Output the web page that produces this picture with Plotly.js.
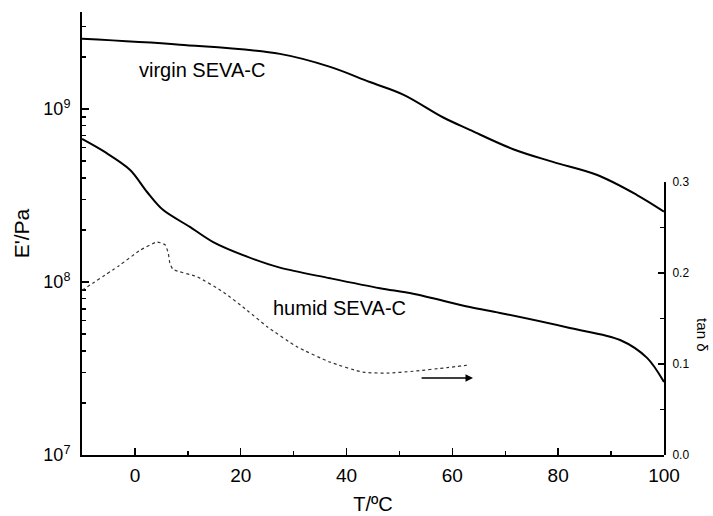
<!DOCTYPE html>
<html>
<head>
<meta charset="utf-8">
<script src="https://cdn.plot.ly/plotly-3.0.1.min.js"></script>
<style>html,body{margin:0;padding:0;background:#fff;}#chart{width:713px;height:516px;}</style>
</head>
<body>
<div id="chart"></div>
<script>
// Temperature (°C) and storage modulus E' (Pa)
const virginT = [-10, 8.5, 27.4, 36.9, 44.4, 50.7, 58.2, 63.3, 71.5, 79, 87.4, 94.9, 100];
const virginE = [2.54e9, 2.35e9, 2.08e9, 1.75e9, 1.43e9, 1.21e9, 8.95e8, 7.57e8, 5.85e8, 4.94e8, 4.15e8, 3.18e8, 2.55e8];

const humidT = [-10, -5.7, -0.9, 2.3, 5.3, 10.4, 14.8, 21.2, 27.4, 36.9, 46.3, 52.6, 63.3, 69, 82.2, 91.7, 96.8, 100];
const humidE = [6.71e8, 5.64e8, 4.44e8, 3.31e8, 2.61e8, 2.08e8, 1.70e8, 1.40e8, 1.21e8, 1.05e8, 9.2e7, 8.55e7, 7.16e7, 6.62e7, 5.42e7, 4.62e7, 3.64e7, 2.64e7];

// tan delta of humid sample
const tanT = [-10, -3, 1, 4.2, 5.7, 6.3, 6.6, 7.2, 11.7, 16.7, 21.2, 25, 30.6, 36.9, 43.1, 47.7, 52.6, 59, 63.3];
const tanD = [0.181, 0.208, 0.225, 0.234, 0.231, 0.222, 0.211, 0.204, 0.196, 0.179, 0.159, 0.141, 0.119, 0.102, 0.091, 0.090, 0.092, 0.096, 0.099];

const xTicks = [0, 20, 40, 60, 80, 100];
const yTicks = [1e7, 1e8, 1e9];
const yTickText = ['10<sup>7</sup>', '10<sup>8</sup>', '10<sup>9</sup>'];
const y2Ticks = [0, 0.1, 0.2, 0.3];
const y2TickText = ['0.0', '0.1', '0.2', '0.3'];

const yMinor = [];
[1e7, 1e8, 1e9].forEach(d => { for (let k = 2; k <= 9; k++) yMinor.push(k * d); });

const FONT = 'Liberation Sans, Arial, sans-serif';

const traces = [
  {x: virginT, y: virginE, type: 'scatter', mode: 'lines', line: {color: '#000', width: 2, shape: 'spline', smoothing: 1}, xaxis: 'x', yaxis: 'y', hoverinfo: 'skip'},
  {x: humidT, y: humidE, type: 'scatter', mode: 'lines', line: {color: '#000', width: 2, shape: 'spline', smoothing: 0.9}, xaxis: 'x', yaxis: 'y', hoverinfo: 'skip'},
  {x: tanT, y: tanD, type: 'scatter', mode: 'lines', line: {color: '#333', width: 1.2, dash: 'dot', shape: 'spline', smoothing: 0.5}, xaxis: 'x', yaxis: 'y2', hoverinfo: 'skip'}
];

const layout = {
  width: 713, height: 516,
  margin: {l: 82, r: 49, t: 12, b: 61},
  paper_bgcolor: '#fff', plot_bgcolor: 'rgba(0,0,0,0)',
  showlegend: false,
  font: {family: FONT, color: '#000'},
  xaxis: {
    range: [-10, 100], showgrid: false, zeroline: false,
    showline: true, linecolor: '#000', linewidth: 2,
    tickmode: 'array', tickvals: xTicks, ticktext: xTicks.map(String),
    ticks: 'inside', ticklen: 7, tickwidth: 1.5, tickcolor: '#000',
    minor: {tickmode: 'linear', tick0: 10, dtick: 20, ticks: 'inside', ticklen: 4, tickwidth: 1.5, tickcolor: '#000'},
    tickfont: {size: 19, family: FONT},
    ticklabelstandoff: 2,
    title: {text: 'T/ºC', font: {size: 20, family: FONT}, standoff: 12},
    anchor: 'y'
  },
  yaxis: {
    type: 'log', range: [7, 9.56], showgrid: false, zeroline: false,
    showline: true, linecolor: '#000', linewidth: 2,
    tickmode: 'array', tickvals: yTicks, ticktext: yTickText,
    ticks: 'inside', ticklen: 7, tickwidth: 1.5, tickcolor: '#000',
    minor: {tickmode: 'array', tickvals: yMinor, ticks: 'inside', ticklen: 4, tickwidth: 1.5, tickcolor: '#000'},
    tickfont: {size: 18, family: FONT},
    ticklabelstandoff: 6,
    title: {text: "E'/Pa", font: {size: 21, family: FONT}, standoff: 8},
    anchor: 'x'
  },
  yaxis2: {
    range: [0, 0.3], domain: [0, 0.6163], side: 'right', anchor: 'x',
    showgrid: false, zeroline: false,
    showline: true, linecolor: '#000', linewidth: 2,
    tickmode: 'array', tickvals: y2Ticks, ticktext: y2TickText,
    ticks: 'inside', ticklen: 6, tickwidth: 1.5, tickcolor: '#000',
    minor: {tickmode: 'array', tickvals: [0.05, 0.15, 0.25], ticks: 'inside', ticklen: 4, tickwidth: 1.5, tickcolor: '#000'},
    tickfont: {size: 12, family: FONT},
    ticklabelstandoff: 4
  },
  annotations: [
    {xref: 'x', yref: 'y', x: 12.7, y: 9.225, text: 'virgin SEVA-C', showarrow: false, font: {size: 20, family: FONT}},
    {xref: 'x', yref: 'y', x: 38.6, y: 7.85, text: 'humid SEVA-C', showarrow: false, font: {size: 20, family: FONT}},
    {xref: 'x', yref: 'y2', x: 63.9, y: 0.0846, axref: 'x', ayref: 'y2', ax: 53.9, ay: 0.0846, text: '', showarrow: true, arrowhead: 2, arrowsize: 1, arrowwidth: 1.5, arrowcolor: '#000'},
    {xref: 'paper', yref: 'paper', x: 1.065, y: 0.271, xanchor: 'center', yanchor: 'middle', text: 'tan δ', textangle: 90, showarrow: false, font: {size: 15, family: FONT}}
  ]
};

Plotly.newPlot('chart', traces, layout, {staticPlot: true, displayModeBar: false});
</script>
</body>
</html>
